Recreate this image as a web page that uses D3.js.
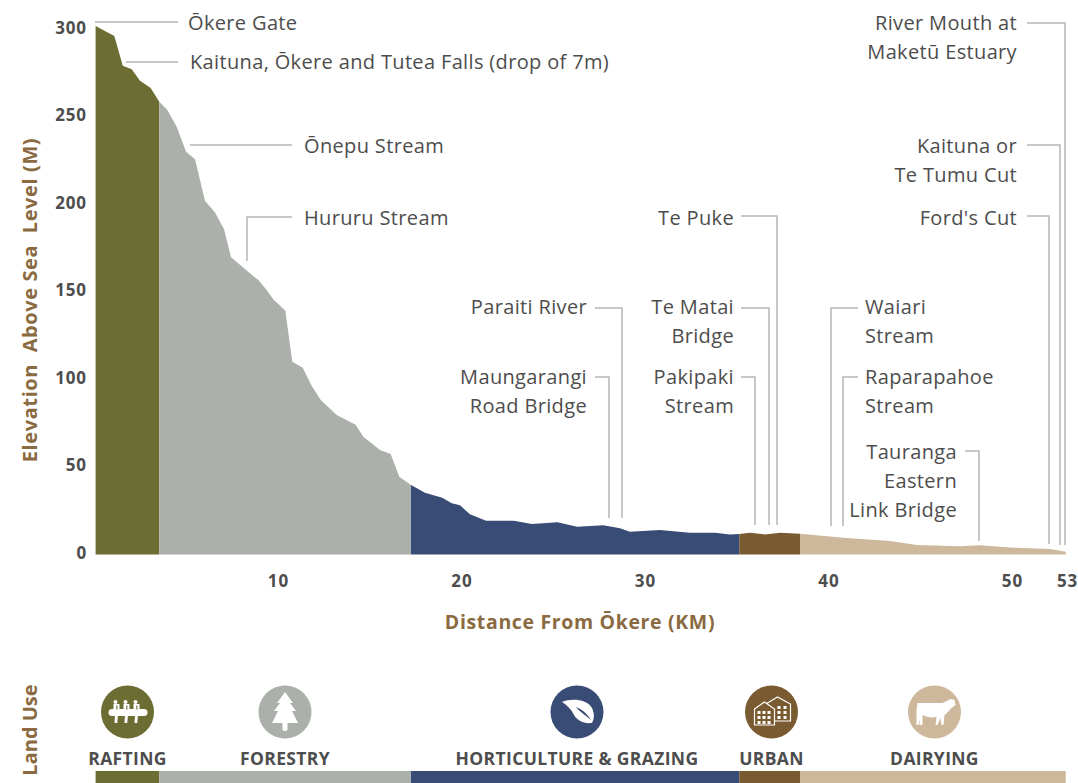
<!DOCTYPE html>
<html><head><meta charset="utf-8">
<script src="https://cdn.jsdelivr.net/npm/d3@7"></script>
<style>html,body{margin:0;padding:0;background:#fff}svg{display:block}
text{font-family:"Open Sans",sans-serif}</style></head>
<body><svg id="c" width="1078" height="783"></svg>
<script>
const profileKm=[0.06,1.08,1.54,2.03,2.48,3.06,3.53,3.97,4.48,4.99,5.48,6.02,6.57,7.06,7.44,8.65,8.93,9.38,9.74,10.4,10.78,11.35,11.84,12.33,13.2,14.23,14.65,15.56,16.14,16.61,17.25,18.01,18.95,19.47,19.92,20.46,21.34,22.86,23.83,25.22,26.31,27.73,28.64,29.18,30.82,32.45,33.82,34.63,35.14,35.72,36.54,37.36,38.45,40.81,43.35,44.81,47.17,48.26,50.07,52.07,52.93];
const profileElevation=[302,296.3,279.3,277.3,270.7,266.6,258.7,254,244.5,230.2,225.8,202.2,195.5,185.8,169.8,159.1,156.9,151.1,145.8,139.3,110.2,106.7,96.3,88.3,79.7,74.2,67.3,59.7,57.4,44.5,39.7,35.3,32.5,29.3,28.1,23,19.3,19.3,17.4,18.4,15.9,16.7,15,13,14,12.5,12.5,11.5,11.7,12.5,11.5,12.5,11.9,9.6,7.7,5.4,4.7,5.3,3.9,3.1,1.6];
const landUses=["RAFTING","FORESTRY","HORTICULTURE & GRAZING","URBAN","DAIRYING"];
const landUseEnds=[3.53,17.25,35.14,38.45,52.93];
const landUseColors=["#6b6d33","#abb0ab","#394c75","#7a5a30","#cdb89b"];
const yTicks=[0,50,100,150,200,250,300];
const xTicks=[10,20,30,40,50,53];

const W=1078,H=783;
const svg=d3.select("#c");
const x=d3.scaleLinear().domain([0,53]).range([94.5,1067]);
const y=d3.scaleLinear().domain([0,300]).range([554.5,29.5]);
const TXT="#4d4d4d",BRN="#8a6a40",LN="#b3b6b3";
const pts=profileKm.map((k,i)=>({k,e:profileElevation[i]}));
const area=d3.area().x(d=>x(d.k)).y0(y(0)).y1(d=>y(d.e));
let start=0.06;
landUses.forEach((n,i)=>{
  const end=landUseEnds[i];
  svg.append("path").attr("d",area(pts.filter(p=>p.k>=start&&p.k<=end))).attr("fill",landUseColors[i]);
  svg.append("rect").attr("x",x(start)).attr("width",x(end)-x(start)).attr("y",771).attr("height",12).attr("fill",landUseColors[i]);
  start=end;
});
// axes
const gy=svg.append("g").attr("transform","translate(94,-0.7)").call(d3.axisLeft(y).tickValues(yTicks).tickSize(0).tickPadding(7));
gy.select(".domain").remove();
gy.selectAll("text").attr("font-size",17).attr("font-weight",700).attr("fill",TXT).attr("dy","0.25em").attr("letter-spacing",0.9).style("font-family",'"Open Sans"');
const gx=svg.append("g").attr("transform","translate(0,575)").call(d3.axisBottom(x).tickValues(xTicks).tickFormat(d3.format("d")).tickSize(0).tickPadding(0));
gx.select(".domain").remove();
gx.selectAll("text").attr("font-size",17).attr("font-weight",700).attr("fill",TXT).attr("dy","0.71em").attr("letter-spacing",0.9).style("font-family",'"Open Sans"');
// axis titles
const bold=(s,xx,yy,sz,col,rot,ls)=>svg.append("text").text(s).attr("x",xx).attr("y",yy).attr("font-size",sz).attr("font-weight",700).attr("fill",col).attr("letter-spacing",ls||0).attr("text-anchor","middle").attr("dominant-baseline","central").attr("transform",rot?`rotate(-90 ${xx} ${yy})`:null);
bold("Elevation  Above Sea  Level (M)",29,300,20,BRN,true,0.6).style("white-space","pre");
bold("Distance From Ōkere (KM)",580,621,19.5,BRN,false,0.65);
bold("Land Use",29,730,20,BRN,true);

// annotations: text lines, label anchor, and leader
const annotations=[
 {t:["Ōkere Gate"],a:"start",tx:188,ty:22,path:[[178,22],[95,22]]},
 {t:["Kaituna, Ōkere and Tutea Falls (drop of 7m)"],a:"start",tx:190,ty:61,path:[[178,62],[126,62]]},
 {t:["Ōnepu Stream"],a:"start",tx:304,ty:145,path:[[292,145],[190,145]]},
 {t:["Hururu Stream"],a:"start",tx:304,ty:217,path:[[292,217],[247,217],[247,261]]},
 {t:["Paraiti River"],a:"end",tx:587,ty:306,path:[[595,308],[622,308],[622,518]]},
 {t:["Maungarangi","Road Bridge"],a:"end",tx:587,ty:376,path:[[595,377],[609,377],[609,518]]},
 {t:["Te Puke"],a:"end",tx:734,ty:217,path:[[741,216],[777,216],[777,525]]},
 {t:["Te Matai","Bridge"],a:"end",tx:734,ty:306,path:[[741,308],[769,308],[769,525]]},
 {t:["Pakipaki","Stream"],a:"end",tx:734,ty:376,path:[[741,377],[755,377],[755,525]]},
 {t:["Waiari","Stream"],a:"start",tx:865,ty:306,path:[[858,308],[831,308],[831,526]]},
 {t:["Raparapahoe","Stream"],a:"start",tx:865,ty:376,path:[[858,377],[843,377],[843,526]]},
 {t:["Tauranga","Eastern","Link Bridge"],a:"end",tx:957,ty:451,path:[[965,451],[979,451],[979,541]]},
 {t:["Ford's Cut"],a:"end",tx:1017,ty:217,path:[[1027,216],[1049,216],[1049,544]]},
 {t:["Kaituna or","Te Tumu Cut"],a:"end",tx:1017,ty:145,path:[[1027,145],[1060,145],[1060,545]]},
 {t:["River Mouth at","Maketū Estuary"],a:"end",tx:1017,ty:22,path:[[1027,23],[1065,23],[1065,545]]}
];
const line=d3.line();
annotations.forEach(a=>{
  svg.append("path").attr("d",line(a.path)).attr("fill","none").attr("stroke",LN).attr("stroke-width",1.5);
  a.t.forEach((s,i)=>svg.append("text").text(s).attr("x",a.tx).attr("y",a.ty+i*29.3).attr("text-anchor",a.a).attr("dominant-baseline","central").attr("font-size",20).attr("letter-spacing",0.35).attr("fill",TXT));
});

// land-use legend
const centers=[127.5,285,577,771.5,934.5];
landUses.forEach((n,i)=>{
  svg.append("circle").attr("cx",centers[i]).attr("cy",712).attr("r",26.5).attr("fill",landUseColors[i]);
  bold(n,centers[i],758,17.5,TXT,false,0.35);
  drawIcon(i,svg.append("g").attr("transform",`translate(${centers[i]},712)`));
});
function drawIcon(i,g){
  const c=landUseColors[i];
  if(i===0){
    g.append("rect").attr("x",-19).attr("y",-3).attr("width",39).attr("height",7).attr("rx",3.5).attr("fill","#fff");
    [-11,-1,9].forEach(dx=>{
      g.append("circle").attr("cx",dx-1).attr("cy",-10).attr("r",2).attr("fill","#fff");
      g.append("rect").attr("x",dx-3).attr("y",-8).attr("width",6).attr("height",6).attr("fill","#fff");
      g.append("rect").attr("x",dx-.2).attr("y",-6.5).attr("width",1.1).attr("height",4).attr("fill",c);
      g.append("path").attr("d",`M${dx-1.5} 3L${dx+1.5} 3L${dx+.7} 11L${dx-2} 11Z`).attr("fill","#fff");
    });
  }else if(i===1){
    g.append("path").attr("fill","#fff").attr("d","M0 -20L8 -9L5 -9L11 -1L7 -1L13 11L2.5 11L2.5 18Q0 20 -2.5 18L-2.5 11L-13 11L-7 -1L-11 -1L-5 -9L-8 -9Z");
  }else if(i===2){
    g.append("path").attr("fill","#fff").attr("d","M-15 -10C-6 -14 10 -13 15 -4C18 3 17 7 15 11C6 12 0 8 -3 3C-6 -3 -10 -7 -15 -10Z");
    g.append("path").attr("fill",c).attr("d","M-1 -5C4 -3 9 0 14 8C8 3 3 0 -1 -5Z");
  }else if(i===3){
    const b=(pts,w)=>g.append("path").attr("d",pts).attr("fill",c).attr("stroke","#fff").attr("stroke-width",1.2);
    b("M-4 -9L6 -15L19 -8L19 9L-4 9Z");
    b("M-17 -3L-7 -10L3 -3L3 13L-17 13Z");
    [[-14,-1],[-9,-1],[-4,-1],[-14,4],[-9,4],[-4,4],[-14,9],[-9,9],[-4,9],[6,-6],[12,-6],[6,-1],[12,-1],[6,4],[12,4]].forEach(d=>g.append("rect").attr("x",d[0]).attr("y",d[1]).attr("width",3).attr("height",3).attr("fill","#fff"));
  }else{
    g.append("path").attr("fill","#fff").attr("d","M-17 -9L8 -9C11 -10 14 -12 16 -13L20 -12L21 -7L17 -4C14 -1 12 2 10 3L9 13L7 13L6 6L3 13L1 13L2 5C-3 6 -8 5 -12 3L-12 13L-15 13L-15 7L-16 13L-18 13L-18 -2Z");
  }
}
</script></body></html>
